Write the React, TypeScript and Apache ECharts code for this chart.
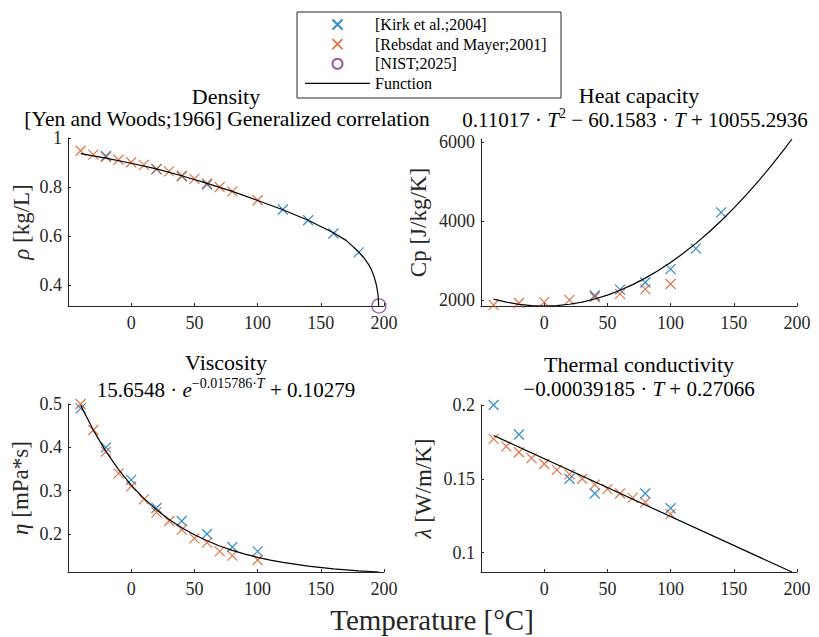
import React, { useEffect, useRef } from "react";
import * as echarts from "echarts";

// ---------- Data ----------
// Density [kg/L]
const kirkRhoT = [-20, 20, 40, 60, 120, 140, 160, 180];
const kirkRho = [0.927, 0.873, 0.843, 0.81, 0.708, 0.664, 0.61, 0.533];
const rebsRhoT = [-40, -30, -20, -10, 0, 10, 20, 30, 40, 50, 60, 70, 80, 100];
const rebsRho = [0.948, 0.932, 0.922, 0.911, 0.901, 0.89, 0.873, 0.864, 0.846, 0.833, 0.815, 0.8, 0.782, 0.746];
const nistT = [196];
const nistRho = [0.314];
const fRhoT = [-40, -20, 0, 20, 40, 60, 80, 100, 120, 140, 160, 170, 180, 185, 188, 190, 192, 193.5, 194.5, 195.3, 195.8];
const fRho = [0.936, 0.918, 0.897, 0.874, 0.846, 0.815, 0.782, 0.745, 0.707, 0.664, 0.613, 0.582, 0.535, 0.505, 0.482, 0.463, 0.436, 0.41, 0.385, 0.36, 0.314];

// Heat capacity [J/kg/K]
const kirkCpT = [40, 60, 80, 100, 120, 140];
const kirkCp = [2110, 2260, 2440, 2780, 3300, 4220];
const rebsCpT = [-40, -20, 0, 20, 40, 60, 80, 100];
const rebsCp = [1870, 1920, 1940, 2000, 2070, 2150, 2270, 2400];
const fCpT = [-40, -30, -20, -10, 0, 10, 20, 30, 40, 50, 60, 70, 80, 90, 100, 110, 120, 130, 140, 150, 160, 170, 180, 190, 196];
const fCp = [2018, 1941, 1886, 1854, 1843, 1854, 1887, 1943, 2020, 2120, 2241, 2385, 2550, 2738, 2947, 3179, 3432, 3708, 4006, 4326, 4667, 5031, 5417, 5825, 6080];

// Viscosity [mPa*s]
const kirkEtaT = [-40, -20, 0, 20, 40, 60, 80, 100];
const kirkEta = [0.49, 0.4, 0.325, 0.26, 0.23, 0.2, 0.17, 0.16];
const rebsEtaT = [-40, -30, -20, -10, 0, 10, 20, 30, 40, 50, 60, 70, 80, 100];
const rebsEta = [0.5, 0.44, 0.39, 0.34, 0.31, 0.28, 0.25, 0.23, 0.21, 0.19, 0.18, 0.16, 0.15, 0.14];
const fEtaT = [-40, -30, -20, -10, 0, 10, 20, 30, 40, 50, 60, 70, 80, 90, 100, 110, 120, 140, 160, 180, 196];
const fEta = [0.4974, 0.4398, 0.3906, 0.3486, 0.3128, 0.2821, 0.256, 0.2336, 0.2145, 0.1982, 0.1843, 0.1724, 0.1622, 0.1536, 0.1462, 0.1398, 0.1344, 0.1259, 0.1196, 0.115, 0.1123];

// Thermal conductivity [W/m/K]
const kirkLamT = [-40, -20, 20, 40, 80, 100];
const kirkLam = [0.2, 0.18, 0.15, 0.14, 0.14, 0.13];
const rebsLamT = [-40, -30, -20, -10, 0, 10, 20, 30, 40, 50, 60, 70, 80, 100];
const rebsLam = [0.177, 0.172, 0.168, 0.164, 0.16, 0.156, 0.153, 0.15, 0.146, 0.143, 0.14, 0.137, 0.134, 0.126];
const fLamT = [-40, 196];
const fLam = [0.1793, 0.0868];

// Tick labels
const xTicks = [0, 50, 100, 150, 200];
const rhoTicks = [0.4, 0.6, 0.8, 1];
const cpTicks = [2000, 4000, 6000];
const etaTicks = [0.2, 0.3, 0.4, 0.5];
const lamTicks = [0.1, 0.15, 0.2];

const N_KIRK = "[Kirk et al.;2004]";
const N_REBS = "[Rebsdat and Mayer;2001]";
const N_NIST = "[NIST;2025]";
const N_FUNC = "Function";

const BLUE = "#0072BD";
const ORANGE = "#D95319";
const PURPLE = "#7E2F8E";
const AX = "#262626";
const FONT = "Liberation Serif";
const X_PATH = "path://M0,0L10,10M10,0L0,10";

const zip = (a: number[], b: number[]) => a.map((v, i) => [v, b[i]]);

export default function App() {
  const ref = useRef<HTMLDivElement>(null);
  useEffect(() => {
    if (!ref.current) return;
    const chart = echarts.init(ref.current, undefined, { renderer: "svg" });

    const grids = [
      { left: 68, top: 138, width: 316, height: 168 },
      { left: 481, top: 139, width: 316, height: 167 },
      { left: 68, top: 404, width: 316, height: 168 },
      { left: 481, top: 405, width: 316, height: 167 },
    ];

    const fmt = (v: number) => String(v);

    const xAxis = grids.map((_, i) => ({
      type: "value",
      gridIndex: i,
      min: -50,
      max: 200,
      interval: 50,
      axisLine: { show: true, onZero: false, lineStyle: { color: AX, width: 1 } },
      axisTick: { show: true, inside: true, length: 3, lineStyle: { color: AX }, customValues: xTicks },
      axisLabel: { color: AX, fontSize: 18, fontFamily: FONT, margin: 8, customValues: xTicks, formatter: fmt },
      splitLine: { show: false },
    }));

    const yDefs = [
      { min: 0.314, max: 1, ticks: rhoTicks, name: "{i|ρ} [kg/L]", gap: 35 },
      { min: 1842.76, max: 6080, ticks: cpTicks, name: "Cp [J/kg/K]", gap: 51 },
      { min: 0.1123, max: 0.5, ticks: etaTicks, name: "{i|η} [mPa*s]", gap: 36 },
      { min: 0.0868, max: 0.2, ticks: lamTicks, name: "{i|λ} [W/m/K]", gap: 46 },
    ];
    const yAxis = yDefs.map((d, i) => ({
      type: "value",
      gridIndex: i,
      min: d.min,
      max: d.max,
      name: d.name,
      nameLocation: "middle",
      nameRotate: 90,
      nameGap: d.gap,
      nameTextStyle: {
        color: AX,
        fontSize: 23,
        fontFamily: FONT,
        rich: { i: { fontStyle: "italic", fontSize: 23, fontFamily: FONT, color: AX } },
      },
      axisLine: { show: true, onZero: false, lineStyle: { color: AX, width: 1 } },
      axisTick: { show: true, inside: true, length: 3, lineStyle: { color: AX }, customValues: d.ticks },
      axisLabel: { color: AX, fontSize: 18, fontFamily: FONT, margin: 6, customValues: d.ticks, formatter: fmt },
      splitLine: { show: false },
    }));

    const kirk = (i: number, t: number[], v: number[]) => ({
      type: "scatter",
      name: N_KIRK,
      xAxisIndex: i,
      yAxisIndex: i,
      data: zip(t, v),
      symbol: X_PATH,
      symbolSize: 10,
      itemStyle: { color: "transparent", borderColor: BLUE, borderWidth: 1.2 },
      silent: true,
      z: 2,
    });
    const rebs = (i: number, t: number[], v: number[]) => ({
      type: "scatter",
      name: N_REBS,
      xAxisIndex: i,
      yAxisIndex: i,
      data: zip(t, v),
      symbol: X_PATH,
      symbolSize: 10,
      itemStyle: { color: "transparent", borderColor: ORANGE, borderWidth: 1.2 },
      silent: true,
      z: 3,
    });
    const func = (i: number, t: number[], v: number[]) => ({
      type: "line",
      name: N_FUNC,
      xAxisIndex: i,
      yAxisIndex: i,
      data: zip(t, v),
      symbol: "none",
      showSymbol: false,
      smooth: false,
      lineStyle: { color: "#000", width: 1.2 },
      itemStyle: { color: "#000" },
      silent: true,
      z: 5,
    });

    const series = [
      kirk(0, kirkRhoT, kirkRho),
      rebs(0, rebsRhoT, rebsRho),
      {
        type: "scatter",
        name: N_NIST,
        xAxisIndex: 0,
        yAxisIndex: 0,
        data: zip(nistT, nistRho),
        symbol: "circle",
        symbolSize: 14,
        itemStyle: { color: "transparent", borderColor: PURPLE, borderWidth: 1.3 },
        silent: true,
        z: 4,
      },
      func(0, fRhoT, fRho),
      kirk(1, kirkCpT, kirkCp),
      rebs(1, rebsCpT, rebsCp),
      func(1, fCpT, fCp),
      kirk(2, kirkEtaT, kirkEta),
      rebs(2, rebsEtaT, rebsEta),
      func(2, fEtaT, fEta),
      kirk(3, kirkLamT, kirkLam),
      rebs(3, rebsLamT, rebsLam),
      func(3, fLamT, fLam),
    ];

    const titleText = (text: string, x: number, y: number, size = 22) => ({
      type: "text",
      x,
      y,
      silent: true,
      style: {
        text,
        fill: "#000",
        fontSize: size,
        fontFamily: FONT,
        lineHeight: 16,
        align: "center",
        verticalAlign: "middle",
      },
    });
    const mathRich = {
      i: { fontStyle: "italic", fontSize: 21, fontFamily: FONT, fill: "#000", lineHeight: 28 },
      sup: { fontSize: 14, fontFamily: FONT, fill: "#000", lineHeight: 10, verticalAlign: "top" },
      supi: { fontSize: 14, fontStyle: "italic", fontFamily: FONT, fill: "#000", lineHeight: 10, verticalAlign: "top" },
    };
    const mathText = (text: string, x: number, y: number) => ({
      type: "text",
      x,
      y,
      silent: true,
      style: {
        text,
        fill: "#000",
        fontSize: 21,
        fontFamily: FONT,
        lineHeight: 28,
        align: "center",
        verticalAlign: "middle",
        rich: mathRich,
      },
    });

    const option = {
      animation: false,
      backgroundColor: "#fff",
      grid: grids,
      xAxis,
      yAxis,
      series,
      legend: {
        show: true,
        orient: "vertical",
        left: 305,
        top: 16,
        padding: 0,
        itemWidth: 65,
        itemHeight: 10,
        itemGap: 2.6,
        selectedMode: false,
        data: [
          N_KIRK,
          N_REBS,
          N_NIST,
          { name: N_FUNC, icon: "path://M0,0H65V1.2H0Z", itemStyle: { color: "#000" } },
        ],
        textStyle: { fontFamily: FONT, fontSize: 16, lineHeight: 17, color: "#000" },
      },
      graphic: [
        {
          type: "rect",
          shape: { x: 297, y: 12, width: 264, height: 86 },
          style: { fill: "#fff", stroke: AX, lineWidth: 1 },
          z: -10,
          silent: true,
        },
        titleText("Density", 226, 96),
        titleText("[Yen and Woods;1966] Generalized correlation", 227, 118.5, 21.5),
        titleText("Heat capacity", 639, 95),
        mathText("0.11017 · {i|T}{sup|2} − 60.1583 · {i|T} + 10055.2936", 635, 120),
        titleText("Viscosity", 226, 362),
        mathText("15.6548 · {i|e}{sup|−0.015786·}{supi|T} + 0.10279", 226, 390),
        titleText("Thermal conductivity", 639, 364),
        mathText("−0.00039185 · {i|T} + 0.27066", 639, 389),
        {
          type: "text",
          x: 432,
          y: 620,
          silent: true,
          style: {
            text: "Temperature [°C]",
            fill: AX,
            fontSize: 29,
            fontFamily: FONT,
            lineHeight: 28,
            align: "center",
            verticalAlign: "middle",
          },
        },
      ],
    };
    chart.setOption(option as any);
    return () => chart.dispose();
  }, []);

  return (
    <div
      ref={ref}
      style={{ position: "fixed", left: 0, top: 0, width: 819, height: 637, background: "#fff" }}
    />
  );
}
